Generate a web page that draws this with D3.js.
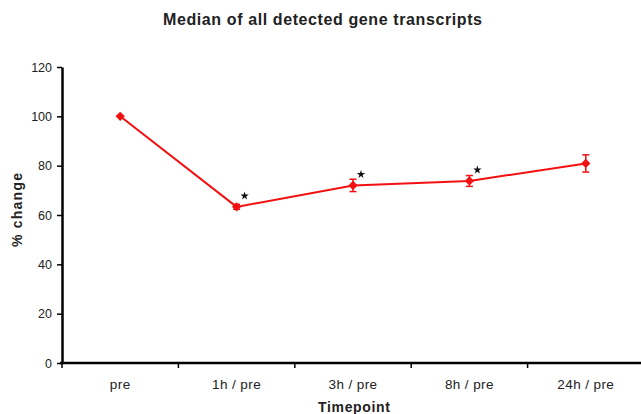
<!DOCTYPE html>
<html>
<head>
<meta charset="utf-8">
<script src="https://cdn.jsdelivr.net/npm/d3@7"></script>
<style>
    body { margin: 0; background: #fff; }
    svg text { font-family: "Liberation Sans", Arial, sans-serif; }
</style>
</head>
<body>
<div id="chart"></div>
<script>
// timepoints and median % change (error = +/- half-length of bars)
const timepoints = ['pre', '1h / pre', '3h / pre', '8h / pre', '24h / pre'];
const medians = [100, 63.3, 72.0, 73.8, 80.9];
const errors = [0, 1, 2.5, 2.2, 3.5];
const significant = [false, true, true, true, false];
const yTicks = [0, 20, 40, 60, 80, 100, 120];

document.addEventListener('DOMContentLoaded', function(){
    drawChart();
});

function drawChart() {
    const width = 641, height = 414;
    const margin = {top: 67, right: -3, bottom: 51, left: 62};

    const svg = d3.select('#chart').append('svg')
        .attr('width', width)
        .attr('height', height);

    let x = d3.scaleBand()
        .domain(timepoints)
        .range([margin.left, width - margin.right]);

    let y = d3.scaleLinear()
        .domain([0, 120])
        .range([height - margin.bottom, margin.top]);

    // title
    svg.append('text')
        .attr('x', 163)
        .attr('y', 25)
        .attr('textLength', 319)
        .attr('lengthAdjust', 'spacing')
        .style('font-size', '16px')
        .style('font-weight', 'bold')
        .attr('fill', '#222')
        .text('Median of all detected gene transcripts');

    // y axis
    const yAxis = svg.append('g')
        .attr('transform', 'translate(' + margin.left + ',0)')
        .call(d3.axisLeft(y).tickValues(yTicks).tickSize(5).tickPadding(5).tickSizeOuter(0));
    yAxis.select('.domain').attr('stroke-width', 2.5);
    yAxis.selectAll('.tick line').attr('stroke-width', 1.5);
    yAxis.selectAll('text').style('font-size', '12.5px').attr('fill', '#222');

    // x axis, ticks at band edges
    const xAxis = svg.append('g')
        .attr('transform', 'translate(0,' + y(0) + ')');
    xAxis.append('line')
        .attr('x1', margin.left - 2)
        .attr('x2', width)
        .attr('stroke', '#000')
        .attr('stroke-width', 2.5);
    xAxis.selectAll('.xtick').data(timepoints)
        .enter().append('line')
        .attr('class', 'xtick')
        .attr('x1', function(d) { return x(d); })
        .attr('x2', function(d) { return x(d); })
        .attr('y1', 0)
        .attr('y2', 5)
        .attr('stroke', '#000')
        .attr('stroke-width', 1.5);
    xAxis.selectAll('.xlabel').data(timepoints)
        .enter().append('text')
        .attr('class', 'xlabel')
        .attr('x', function(d) { return x(d) + x.bandwidth() / 2; })
        .attr('y', 26)
        .attr('text-anchor', 'middle')
        .style('font-size', '13.5px')
        .style('letter-spacing', '0.4px')
        .attr('fill', '#222')
        .text(function(d) { return d; });

    // axis titles
    svg.append('text')
        .attr('x', 318)
        .attr('y', 412)
        .attr('textLength', 72)
        .attr('lengthAdjust', 'spacing')
        .style('font-size', '14px')
        .style('font-weight', 'bold')
        .attr('fill', '#222')
        .text('Timepoint');

    svg.append('text')
        .attr('transform', 'translate(22,247) rotate(-90)')
        .attr('textLength', 74)
        .attr('lengthAdjust', 'spacing')
        .style('font-size', '14px')
        .style('font-weight', 'bold')
        .attr('fill', '#222')
        .text('% change');

    const data = timepoints.map(function(t, i) {
        return {t: t, v: medians[i], e: errors[i], sig: significant[i]};
    });
    const cx = function(d) { return x(d.t) + x.bandwidth() / 2; };

    // line
    svg.append('path')
        .datum(data)
        .attr('fill', 'none')
        .attr('stroke', '#f21010')
        .attr('stroke-width', 2)
        .attr('d', d3.line().x(cx).y(function(d) { return y(d.v); }));

    // error bars
    const err = svg.append('g').attr('stroke', '#f21010').attr('stroke-width', 1.5);
    data.filter(function(d) { return d.e > 0; }).forEach(function(d) {
        err.append('line').attr('x1', cx(d)).attr('x2', cx(d))
            .attr('y1', y(d.v - d.e)).attr('y2', y(d.v + d.e));
        [d.v - d.e, d.v + d.e].forEach(function(v) {
            err.append('line').attr('x1', cx(d) - 3.5).attr('x2', cx(d) + 3.5)
                .attr('y1', y(v)).attr('y2', y(v));
        });
    });

    // diamond markers
    svg.selectAll('.marker').data(data)
        .enter().append('path')
        .attr('class', 'marker')
        .attr('transform', function(d) { return 'translate(' + cx(d) + ',' + y(d.v) + ')'; })
        .attr('d', d3.symbol().type(d3.symbolDiamond2).size(55))
        .attr('fill', '#f21010');

    // significance stars
    svg.selectAll('.star').data(data.filter(function(d) { return d.sig; }))
        .enter().append('path')
        .attr('class', 'star')
        .attr('transform', function(d) { return 'translate(' + (cx(d) + 8) + ',' + (y(d.v) - 11) + ')'; })
        .attr('d', d3.symbol().type(d3.symbolStar).size(22))
        .attr('fill', '#111');
}
</script>
</body>
</html>
